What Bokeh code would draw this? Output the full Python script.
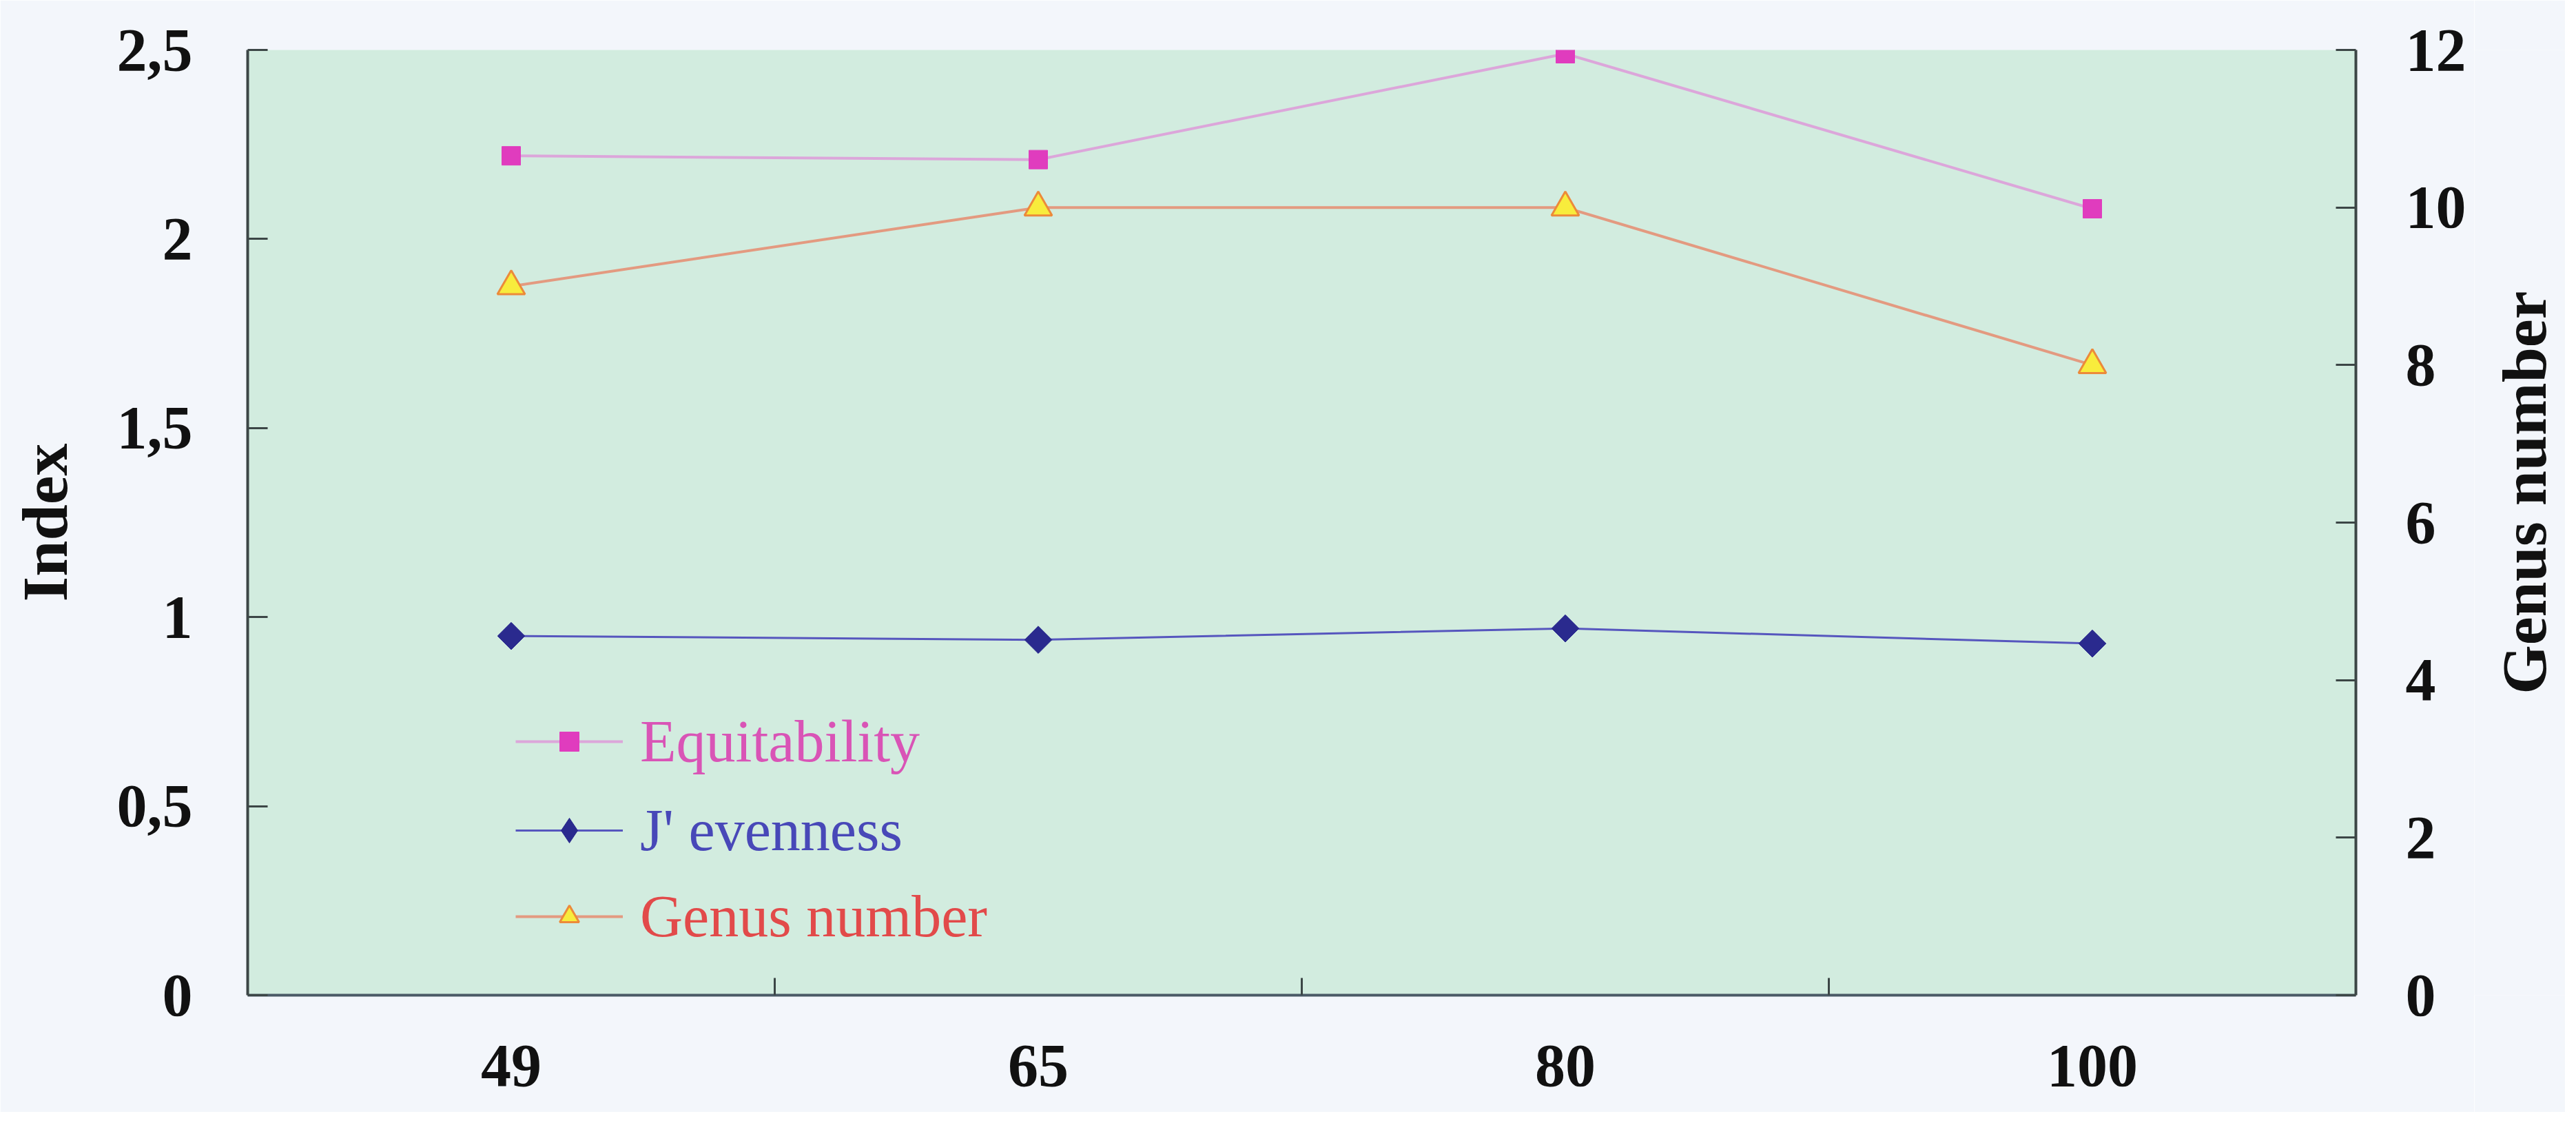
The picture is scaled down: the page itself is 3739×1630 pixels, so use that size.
import math
from bokeh.plotting import figure
from bokeh.layouts import row
from bokeh.models import Range1d, LinearAxis, FixedTicker, Legend, LegendItem
from bokeh.core.properties import value
from bokeh.embed import file_html
from bokeh.resources import INLINE

# ---- data ----
depths = ["49", "65", "80", "100"]
equitability = [2.22, 2.21, 2.49, 2.08]
j_evenness = [0.95, 0.94, 0.97, 0.93]
genus_number = [9, 10, 10, 8]
index_ticks = [0, 0.5, 1, 1.5, 2, 2.5]
index_tick_labels = ["0", "0,5", "1", "1,5", "2", "2,5"]
genus_ticks = [0, 2, 4, 6, 8, 10, 12]
right_title = "Genus number"

def key(v):
    return int(v) if float(v).is_integer() else v

xpos = [i + 0.5 for i in range(len(depths))]
bounds = list(range(1, len(depths)))

FONT = "Liberation Serif"
AXIS_COLOR = "#3c4646"
PAGE_BG = "#F3F6FB"

W_TOTAL, H = 3723, 1614
BL, BT, BB = 359, 72, 170
FRAME_W = 3060
BR = 172
W_MAIN = BL + FRAME_W + BR
W_SIDE = W_TOTAL - W_MAIN
FH = H - BT - BB

p = figure(width=W_MAIN, height=H, output_backend="svg", toolbar_location=None,
           x_range=Range1d(0, len(depths)), y_range=Range1d(0, 2.5),
           min_border_left=BL, min_border_right=BR, min_border_top=BT,
           min_border_bottom=BB)
p.extra_y_ranges = {"right": Range1d(0, 12)}
p.background_fill_color = "#D2ECDF"
p.border_fill_color = PAGE_BG
p.outline_line_color = None
p.grid.visible = False

# x axis
xa = p.xaxis[0]
xa.ticker = FixedTicker(ticks=xpos, minor_ticks=bounds)
xa.major_label_overrides = {key(x): d for x, d in zip(xpos, depths)}
xa.major_tick_in = 0
xa.major_tick_out = 0
xa.minor_tick_in = 25
xa.minor_tick_out = 0
xa.minor_tick_line_color = AXIS_COLOR
xa.minor_tick_line_width = 3
xa.axis_line_color = "#4a5a66"
xa.axis_line_width = 4
xa.major_label_standoff = 73
xa.major_label_text_font = FONT
xa.major_label_text_font_style = "bold"
xa.major_label_text_font_size = "88px"
xa.major_label_text_color = "#111111"

# left axis
ya = p.yaxis[0]
ya.ticker = FixedTicker(ticks=index_ticks)
ya.major_label_overrides = {key(t): l for t, l in zip(index_ticks, index_tick_labels)}
ya.axis_label = "Index"

ra = LinearAxis(y_range_name="right", ticker=FixedTicker(ticks=genus_ticks))
p.add_layout(ra, "right")

for ax in (ya, ra):
    ax.major_tick_in = 29
    ax.major_tick_out = 0
    ax.minor_tick_in = 0
    ax.minor_tick_out = 0
    ax.major_tick_line_color = AXIS_COLOR
    ax.major_tick_line_width = 3
    ax.axis_line_color = AXIS_COLOR
    ax.axis_line_width = 4
    ax.major_label_text_font = FONT
    ax.major_label_text_font_style = "bold"
    ax.major_label_text_font_size = "88px"
    ax.major_label_text_color = "#111111"
ya.major_label_standoff = 80
ya.axis_label_standoff = 50
ya.axis_label_text_font = FONT
ya.axis_label_text_font_style = "bold"
ya.axis_label_text_font_size = "94px"
ya.axis_label_text_color = "#111111"
ra.major_label_standoff = 72

# series
eq_line = p.line(xpos, equitability, line_color="#DCA6DA", line_width=4)
eq_pts = p.scatter(xpos, equitability, marker="square", size=27,
                   fill_color="#E03CBE", line_color="#E03CBE")
j_line = p.line(xpos, j_evenness, line_color="#5656BE", line_width=3)
# slim diamond (hidden under the rotated squares) that supplies the legend key
j_key = p.scatter(xpos, j_evenness, marker="diamond", size=38,
                  fill_color="#2A2A8E", line_color="#2A2A8E")
j_pts = p.scatter(xpos, j_evenness, marker="square", angle=math.pi / 4, size=28,
                  fill_color="#2A2A8E", line_color="#2A2A8E")
g_line = p.line(xpos, genus_number, line_color="#E39A80", line_width=4,
                y_range_name="right")
g_pts = p.scatter(xpos, genus_number, marker="triangle", size=40,
                  fill_color="#F8EC3C", line_color="#EC8A3A", line_width=3,
                  y_range_name="right")

def add_legend(label, rends, color, yoff, gh=70):
    lg = Legend(items=[LegendItem(label=label, renderers=rends)],
                location=(389, yoff), glyph_width=156, glyph_height=gh,
                label_standoff=25, padding=0, margin=0, spacing=0,
                border_line_color=None, background_fill_alpha=0,
                label_text_font=FONT, label_text_font_size="86px",
                label_text_color=color)
    p.add_layout(lg)

add_legend("Equitability", [eq_line, eq_pts], "#D954B6", 318)
add_legend("J' evenness", [j_line, j_key], "#4848B8", 189, gh=90)
add_legend("Genus number", [g_line, g_pts], "#E24A4A", 64)

# narrow strip on the right carrying the right-hand axis title (bottom-to-top)
side = figure(width=W_SIDE, height=H, output_backend="svg", toolbar_location=None,
              x_range=Range1d(0, W_SIDE), y_range=Range1d(0, H),
              x_axis_type=None, y_axis_type=None,
              min_border_left=0, min_border_right=0, min_border_top=0,
              min_border_bottom=0)
side.background_fill_color = PAGE_BG
side.border_fill_color = PAGE_BG
side.outline_line_color = None
side.grid.visible = False
side.text(x=[W_SIDE - 60], y=[H - 756], text=[right_title], angle=math.pi / 2,
          text_align="center", text_baseline="middle",
          text_font=value(FONT), text_font_style="bold",
          text_font_size="92px", text_color="#111111")

layout = row(p, side, spacing=0)
open("out.html", "w").write(file_html(layout, INLINE))
